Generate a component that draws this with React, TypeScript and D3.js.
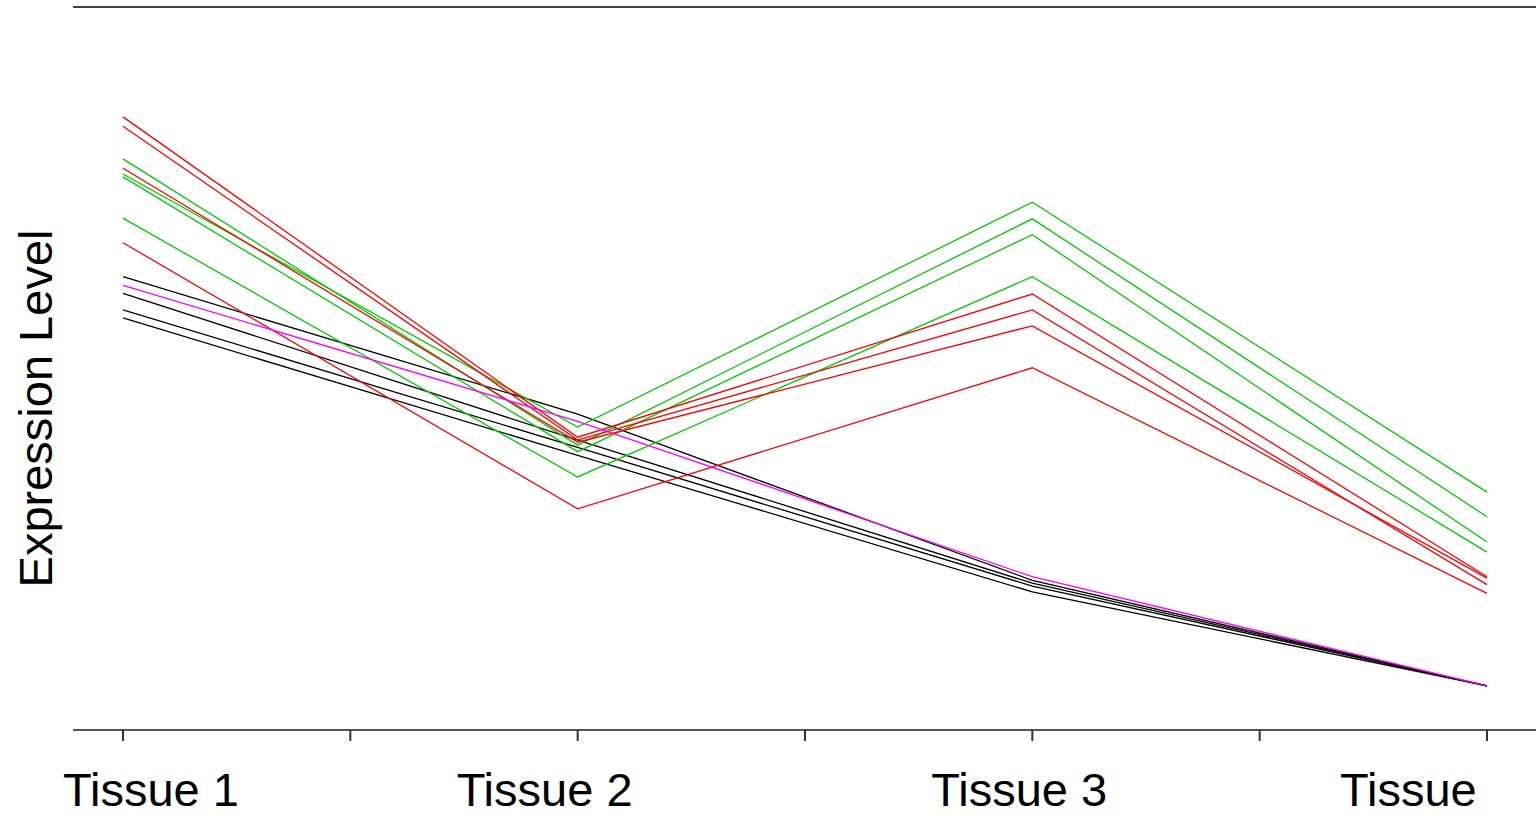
import React from 'react';
import * as d3 from 'd3';

// tissues along the x axis, and the text shown under each tick
const tissues = ['T1', 'T2', 'T3', 'T4'];
const tissueLabels = ['Tissue 1', 'Tissue 2', 'Tissue 3', 'Tissue'];

// expression profiles, one value per tissue
const redSeries = [
  [84.8, 40.5, 60.3, 21.2],
  [83.5, 40.1, 58.1, 20.1],
  [77.7, 39.8, 55.9, 21.0],
  [67.4, 30.6, 50.1, 18.9],
];
const greenSeries = [
  [79.0, 39.4, 70.7, 29.5],
  [76.9, 41.9, 73.0, 32.9],
  [76.5, 38.5, 68.5, 26.0],
  [70.8, 35.0, 62.7, 24.6],
];
const blackSeries = [
  [62.7, 43.7, 20.7, 6.1],
  [60.4, 40.1, 20.3, 6.1],
  [58.1, 39.1, 19.9, 6.1],
  [57.0, 38.0, 19.1, 6.1],
];
const magentaSeries = [[61.5, 42.7, 21.2, 6.1]];

const W = 1536;
const H = 816;
const axisY = 730;
const topY = 7;
const left = 73;

const App = () => {
  const x = d3.scalePoint<string>().domain(tissues).range([123, 1487]);
  const y = d3.scaleLinear().domain([0, 100]).range([axisY, topY]);

  const line = d3
    .line<number>()
    .x((_, i) => x(tissues[i]) as number)
    .y(d => y(d));

  const groups = [
    { color: '#000000', data: blackSeries },
    { color: '#00cc00', data: greenSeries },
    { color: '#ff0000', data: redSeries },
    { color: '#ff00ff', data: magentaSeries },
  ];

  // minor ticks halfway between tissues
  const majors = tissues.map(t => x(t) as number);
  const minors = majors.slice(1).map((m, i) => (m + majors[i]) / 2);

  // labels sit a little left of their tick, like the original plot
  const labelShift = [-60, -121, -101, -147];

  return (
    <svg
      width={W}
      height={H}
      style={{ position: 'absolute', left: 0, top: 0, background: '#fff' }}
      fontFamily="'Liberation Sans', Arial, sans-serif"
    >
      <line x1={left} x2={W} y1={topY} y2={topY} stroke="#000" strokeWidth={1.5} />

      {groups.map(g =>
        g.data.map((s, i) => (
          <path key={g.color + i} d={line(s) || ''} fill="none" stroke={g.color} strokeWidth={1.3} />
        ))
      )}

      <line x1={left} x2={W} y1={axisY} y2={axisY} stroke="#555" strokeWidth={2} />
      {majors.concat(minors).map((tx, i) => (
        <line key={i} x1={tx} x2={tx} y1={axisY} y2={axisY + 11} stroke="#333" strokeWidth={2} />
      ))}

      {tissueLabels.map((lab, i) => (
        <text key={lab + i} x={majors[i] + labelShift[i]} y={806} fontSize={47} fill="#000">
          {lab}
        </text>
      ))}

      <text
        transform={`translate(52, ${(227 + 590) / 2}) rotate(-90)`}
        textAnchor="middle"
        fontSize={47}
        fill="#000"
      >
        Expression Level
      </text>
    </svg>
  );
};

export default App;
